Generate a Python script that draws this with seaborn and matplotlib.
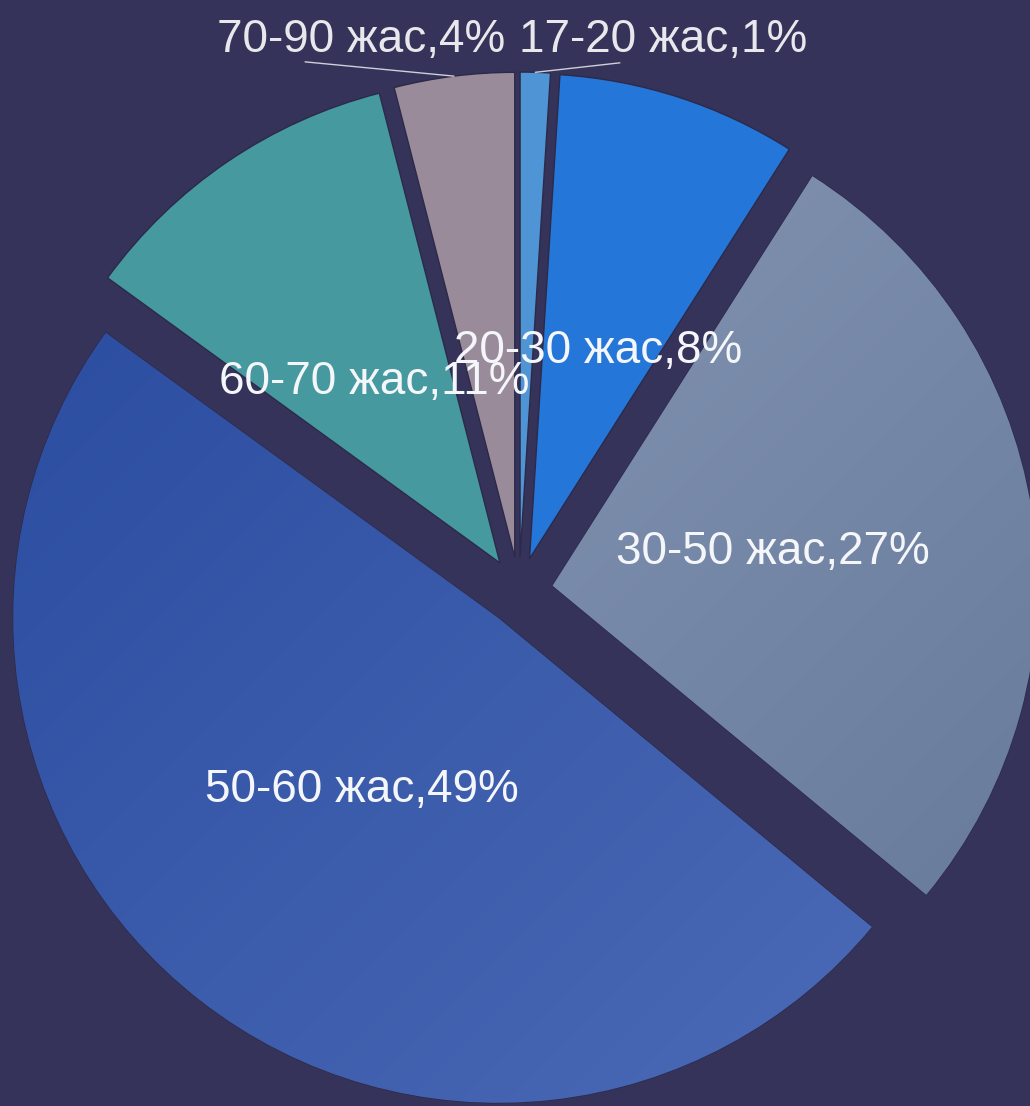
import numpy as np
import matplotlib
matplotlib.use("Agg")
import matplotlib.pyplot as plt
from matplotlib.colors import LinearSegmentedColormap
import seaborn as sns

# Age groups and their shares (%)
ages = ["17-20 жас", "20-30 жас", "30-50 жас", "50-60 жас", "60-70 жас", "70-90 жас"]
shares = [1, 8, 27, 49, 11, 4]
colors = ["#4f95d6", "#2476d8", "#7a8bab", "#3b5aad", "#45999f", "#9a8b9b"]

# light -> dark shading for the two big slices (upper-left to lower-right)
shade = {"30-50 жас": ("#8e9dbb", "#647898"), "50-60 жас": ("#284a9e", "#4d6cb8")}

sns.set_theme(style="white")
plt.rcParams["font.family"] = ["Liberation Sans", "DejaVu Sans"]

bg = "#35335a"
fig = plt.figure(figsize=(10.3, 11.06), dpi=100, facecolor=bg)
ax = fig.add_axes([0, 0, 1, 1])
ax.set_facecolor(bg)

wedges, _ = ax.pie(shares, colors=colors, startangle=90, counterclock=False,
                   explode=[0.07] * len(shares), radius=1.0,
                   wedgeprops=dict(edgecolor="#2c2a48", linewidth=1))

R = 485  # pie radius in pixels
ax.set_aspect("auto")
ax.axis("off")

# gradient fill clipped to the big wedges
for w, name in zip(wedges, ages):
    if name not in shade:
        continue
    cx, cy = w.center
    ext = [cx - 1, cx + 1, cy - 1, cy + 1]
    gx, gy = np.meshgrid(np.linspace(0, 1, 200), np.linspace(1, 0, 200))
    grad = (gx + (1 - gy)) / 2
    cmap = LinearSegmentedColormap.from_list("g", shade[name])
    im = ax.imshow(grad, extent=ext, cmap=cmap, origin="upper", zorder=w.get_zorder(),
                   aspect="auto", interpolation="bilinear")
    im.set_clip_path(w)
ax.set_xlim(-519 / R, (1030 - 519) / R)
ax.set_ylim(-(1106 - 591) / R, 591 / R)

# labels
outer = {"17-20 жас": ((0.297, 1.136), (0.208, 1.089)),
         "70-90 жас": ((-0.326, 1.136), (-0.441, 1.091))}
for w, name, v in zip(wedges, ages, shares):
    m = np.deg2rad((w.theta1 + w.theta2) / 2)
    cx, cy = w.center
    lab = f"{name},{v}%"
    if name in outer:
        (tx, ty), (lx, ly) = outer[name]
        ax.plot([lx, cx + np.cos(m)], [ly, cy + np.sin(m)], color="#cfcfd8", lw=1, zorder=5)
        ax.text(tx, ty, lab, ha="center", va="center", fontsize=33, color="#e8e8ec", zorder=6)
    else:
        ax.text(cx + 0.46 * np.cos(m), cy + 0.45 * np.sin(m), lab, ha="center", va="center",
                fontsize=33, color="#f4f6fa", zorder=6)

fig.savefig("out.png", dpi=100, facecolor=bg)
